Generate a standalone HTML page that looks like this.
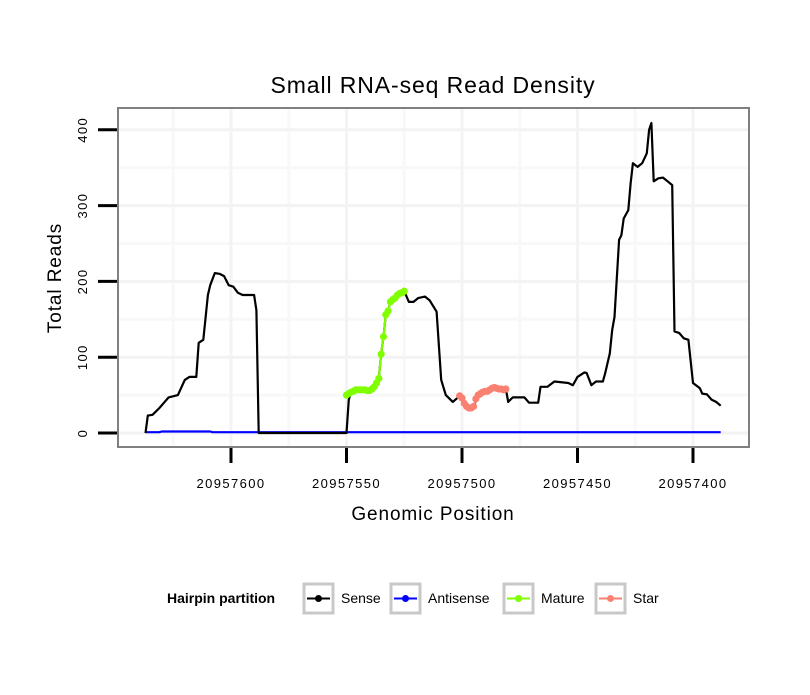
<!DOCTYPE html>
<html><head><meta charset="utf-8"><style>
body{margin:0;background:#fff;}
svg text{font-family:"Liberation Sans",sans-serif;}
</style></head><body>
<svg id="chart" width="810" height="690" xmlns="http://www.w3.org/2000/svg">
<rect width="810" height="690" fill="#fff"/>
<text x="433" y="93" font-size="23" letter-spacing="0.9" text-anchor="middle">Small RNA-seq Read Density</text>
<g id="grid"></g>
<g id="series"></g>
<rect x="118" y="108" width="631" height="339" fill="none" stroke="#808080" stroke-width="2"/>
<g id="axes"></g>
<text x="433" y="520" font-size="19" letter-spacing="0.9" text-anchor="middle">Genomic Position</text>
<text transform="translate(61,278) rotate(-90)" font-size="19" letter-spacing="0.9" text-anchor="middle">Total Reads</text>
<g id="legend"></g>
</svg>
<script>
const xTicks=[20957600,20957550,20957500,20957450,20957400];
const yTicks=[0,100,200,300,400];
const sensePos=[20957637,20957636,20957634,20957632,20957631,20957629,20957627,20957623,20957620,20957618,20957615,20957614,20957612,20957610,20957609,20957607,20957605,20957603,20957601,20957599,20957597,20957595,20957590,20957589,20957588,20957550,20957549,20957548,20957546,20957543,20957540,20957538,20957536,20957535,20957534,20957533,20957532,20957531,20957530,20957528,20957525,20957523,20957521,20957519,20957516,20957514,20957511,20957509,20957507,20957504,20957501,20957499,20957497,20957495,20957493,20957491,20957487,20957484,20957481,20957480,20957478,20957473,20957471,20957467,20957466,20957463,20957460,20957454,20957452,20957450,20957447,20957446,20957444,20957442,20957439,20957438,20957436,20957435,20957434,20957432,20957431,20957430,20957428,20957427,20957426,20957424,20957422,20957420,20957419,20957418,20957417,20957415,20957413,20957411,20957409,20957408,20957406,20957404,20957402,20957400,20957397,20957396,20957394,20957392,20957390,20957388];
const senseVal=[0,23,24,30,33,40,47,50,70,74,74,119,123,182,195,211,210,207,195,193,185,182,182,162,0,0,44,54,57,57,56,61,72,104,127,156,161,173,176,182,187,173,173,178,180,175,160,70,50,41,49,39,33,35,50,54,59,58,58,41,47,47,40,40,61,61,68,66,63,74,80,79,63,68,68,79,105,136,153,255,261,283,294,329,356,351,356,369,400,409,332,336,337,332,327,134,132,125,123,66,59,52,51,44,41,36];
const antiPos=[20957637,20957631,20957630,20957609,20957608,20957388];
const antiVal=[1,1,2,2,1,1];
const maturePos=[20957550,20957549,20957548,20957547,20957546,20957545,20957544,20957543,20957542,20957541,20957540,20957539,20957538,20957537,20957536,20957535,20957534,20957533,20957532,20957531,20957530,20957529,20957528,20957527,20957526,20957525];
const matureVal=[50,52,54,55,57,57,57,57,57,56,56,58,61,66,72,104,127,156,161,173,176,178,182,184,185,187];
const starPos=[20957501,20957500,20957499,20957498,20957497,20957496,20957495,20957494,20957493,20957492,20957491,20957490,20957489,20957488,20957487,20957486,20957485,20957484,20957483,20957482,20957481];
const starVal=[49,46,39,35,33,33,35,45,50,52,54,55,55,57,59,60,59,58,58,57,58];

const NS="http://www.w3.org/2000/svg";
const X=v=>231+(20957600-v)*2.31;
const Y=v=>433-v*0.758;
function mk(tag,attrs,parent){const e=document.createElementNS(NS,tag);for(const k in attrs)e.setAttribute(k,attrs[k]);parent.appendChild(e);return e;}
const grid=document.getElementById('grid'),axes=document.getElementById('axes'),ser=document.getElementById('series'),leg=document.getElementById('legend');
for(let i=0;i<xTicks.length;i++){
  const xm=X(xTicks[i]+25);
  if(xm>118&&xm<749){const g=mk('line',{x1:xm,x2:xm,y1:109,y2:446,stroke:'#f8f8f8','stroke-width':3},grid);
  }
}
const xlast=X(xTicks[xTicks.length-1]-25);
if(xlast<749){const g=mk('line',{x1:xlast,x2:xlast,y1:109,y2:446,stroke:'#f8f8f8','stroke-width':3},grid);}
for(let i=0;i<yTicks.length;i++){
  const ym=Y(yTicks[i]+50);
  if(ym>108){const g=mk('line',{x1:119,x2:748,y1:ym,y2:ym,stroke:'#f8f8f8','stroke-width':3},grid);
  }
}
xTicks.forEach(t=>{
  const g=mk('line',{x1:X(t),x2:X(t),y1:109,y2:446,stroke:'#f3f3f3','stroke-width':3},grid);
  
  const tk=mk('line',{x1:X(t),x2:X(t),y1:448,y2:463,stroke:'#000','stroke-width':3},axes);
  
  const lb=mk('text',{x:X(t),y:488,'font-size':13,'letter-spacing':1.4,'text-anchor':'middle'},axes);lb.textContent=t;
  
});
yTicks.forEach(t=>{
  const g=mk('line',{x1:119,x2:748,y1:Y(t),y2:Y(t),stroke:'#f3f3f3','stroke-width':3},grid);
  
  const tk=mk('line',{x1:98,x2:117,y1:Y(t),y2:Y(t),stroke:'#000','stroke-width':3},axes);
  
  const lb=mk('text',{transform:`translate(87,${Y(t)}) rotate(-90)`,'font-size':13,'letter-spacing':1.4,'text-anchor':'middle'},axes);lb.textContent=t;
  
});
function line(px,vals,color,name){
  const d=px.map((p,i)=>(i?'L':'M')+X(p).toFixed(1)+' '+Y(vals[i]).toFixed(1)).join(' ');
  const p=mk('path',{d:d,fill:'none',stroke:color,'stroke-width':2.2,'stroke-linejoin':'round'},ser);
  
}
function dots(px,vals,color,name){
  px.forEach((p,i)=>{const c=mk('circle',{cx:X(p),cy:Y(vals[i]),r:3.6,fill:color},ser);
  });
}
line(antiPos,antiVal,'#0000ff','antisense-line');
line(sensePos,senseVal,'#000000','sense-line');
line(maturePos,matureVal,'#7fff00','mature-line');
dots(maturePos,matureVal,'#7fff00','mature-point');
line(starPos,starVal,'#fa8072','star-line');
dots(starPos,starVal,'#fa8072','star-point');
const lt=mk('text',{x:167,y:603,'font-size':14,'font-weight':'bold'},leg);lt.textContent='Hairpin partition';

const items=[['Sense','#000000',304],['Antisense','#0000ff',391],['Mature','#7fff00',504],['Star','#fa8072',596]];
items.forEach(([n,c,x])=>{
  const g=mk('g',{},leg);
  
  mk('rect',{x:x,y:584,width:29,height:29,fill:'#fff',stroke:'#c8c8c8','stroke-width':3},g);
  mk('line',{x1:x+3,x2:x+26,y1:598.5,y2:598.5,stroke:c,'stroke-width':2},g);
  mk('circle',{cx:x+14.5,cy:598.5,r:3.5,fill:c},g);
  const t=mk('text',{x:x+37,y:603,'font-size':14},g);t.textContent=n;
});
</script>
</body></html>
